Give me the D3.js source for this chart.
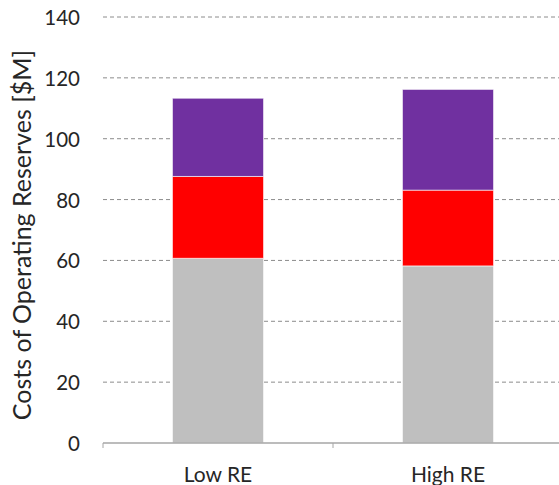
<!DOCTYPE html>
<html>
<head>
<meta charset="utf-8">
<script src="https://cdn.jsdelivr.net/npm/d3@7"></script>
<style>
  html, body { margin: 0; padding: 0; background: #fff; }
  svg { display: block; font-family: Lato, "Open Sans", sans-serif; }
</style>
</head>
<body>
<svg id="chart" width="559" height="485"></svg>
<script>
// Operating reserve costs by scenario, stacked by component ($M)
const categories = ["Low RE", "High RE"];
const seriesNames = ["Base", "Middle", "Top"];
const baseValues = [60.7, 58.2];
const middleValues = [26.9, 24.9];
const topValues = [25.7, 33.1];
const seriesColors = ["#bfbfbf", "#ff0000", "#7030a0"];
const yTicks = [0, 20, 40, 60, 80, 100, 120, 140];
const yTitle = "Costs of Operating Reserves [$M]";

const rows = categories.map((c, i) => ({
  category: c,
  Base: baseValues[i],
  Middle: middleValues[i],
  Top: topValues[i]
}));

const svg = d3.select("#chart");
const plotLeft = 103, plotRight = 563, plotTop = 17, plotBottom = 443;

const x = d3.scaleBand().domain(categories).range([plotLeft, plotRight]).padding(0);
const y = d3.scaleLinear().domain([0, 140]).range([plotBottom, plotTop]);
const barW = x.bandwidth() * 0.396;

// Horizontal dashed gridlines
svg.append("g")
  .selectAll("line")
  .data(yTicks.filter(t => t > 0))
  .join("line")
  .attr("x1", plotLeft).attr("x2", 559)
  .attr("y1", d => y(d)).attr("y2", d => y(d))
  .attr("stroke", "#8c8c8c")
  .attr("stroke-width", 1)
  .attr("stroke-dasharray", "4,3");

// Stacked bars
const stack = d3.stack().keys(seriesNames)(rows);
svg.append("g")
  .selectAll("g")
  .data(stack)
  .join("g")
  .attr("fill", (d, i) => seriesColors[i])
  .selectAll("rect")
  .data(d => d)
  .join("rect")
  .attr("x", d => x(d.data.category) + (x.bandwidth() - barW) / 2)
  .attr("width", barW)
  .attr("y", d => y(d[1]))
  .attr("height", d => y(d[0]) - y(d[1]))
  .attr("stroke", "rgba(255,255,255,0.6)")
  .attr("stroke-width", 1);

// Category axis
const xAxis = svg.append("g")
  .attr("transform", `translate(0,${plotBottom})`)
  .call(d3.axisBottom(x).tickSize(0).tickFormat(""));
xAxis.select(".domain").attr("stroke", "#a6a6a6").attr("stroke-width", 1.3)
  .attr("d", `M${plotLeft},0H${plotRight}`);
// Category boundary ticks
const bounds = [plotLeft, x(categories[1]), plotRight];
svg.append("g").selectAll("line").data(bounds).join("line")
  .attr("x1", d => d).attr("x2", d => d)
  .attr("y1", plotBottom).attr("y2", plotBottom + 5)
  .attr("stroke", "#a6a6a6").attr("stroke-width", 1);

svg.append("g").selectAll("text").data(categories).join("text")
  .attr("x", d => x(d) + x.bandwidth() / 2)
  .attr("y", 482)
  .attr("text-anchor", "middle")
  .attr("font-size", 21)
  .attr("fill", "#262626")
  .text(d => d);

// Value axis labels
svg.append("g").selectAll("text").data(yTicks).join("text")
  .attr("x", 80)
  .attr("y", d => y(d) + 8)
  .attr("text-anchor", "end")
  .attr("font-size", 20.5)
  .attr("fill", "#262626")
  .text(d => d);

// Axis title
svg.append("text")
  .attr("transform", "translate(31,235) rotate(-90)")
  .attr("text-anchor", "middle")
  .attr("font-size", 25)
  .attr("fill", "#262626")
  .text(yTitle);
</script>
</body>
</html>
